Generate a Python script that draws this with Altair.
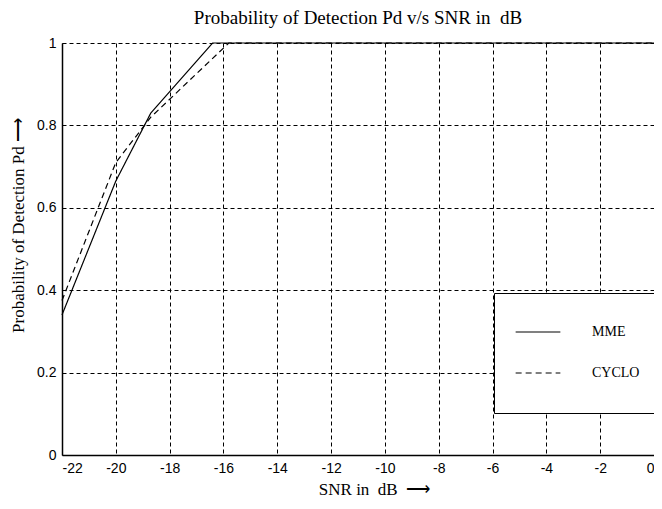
import altair as alt
import pandas as pd

mme_snr = [-22, -20, -18.7, -16.4, 0]
mme_pd = [0.34, 0.665, 0.83, 1.0, 1.0]
cyclo_snr = [-22, -20, -18.7, -15.8, 0]
cyclo_pd = [0.375, 0.71, 0.82, 1.0, 1.0]
series = ["MME", "CYCLO"]
x_ticks = list(range(-22, 1, 2))
y_ticks = [0, 0.2, 0.4, 0.6, 0.8, 1]

rows = []
for i, (xs, ys) in enumerate([(mme_snr, mme_pd), (cyclo_snr, cyclo_pd)]):
    for j, (x, y) in enumerate(zip(xs, ys)):
        rows.append({"snr": x, "pd": y, "series": series[i], "order": j})
df = pd.DataFrame(rows)

serif = "Liberation Serif"
sans = "Liberation Sans"
NB = "\u00a0"

chart = alt.Chart(df).mark_line(color="black", strokeWidth=1.2).encode(
    x=alt.X("snr:Q", scale=alt.Scale(domain=[-22, 0], nice=False),
            axis=alt.Axis(values=x_ticks, title=f"SNR in{NB}{NB}dB{NB}{NB}⟶",
                          titleX=312,
                          labelExpr="datum.value + ''")),
    y=alt.Y("pd:Q", scale=alt.Scale(domain=[0, 1], nice=False),
            axis=alt.Axis(values=y_ticks, title=f"Probability of Detection Pd{NB}⟶",
                          titleY=182,
                          labelExpr="datum.value == 0 || datum.value == 1 ? format(datum.value, 'd') : format(datum.value, '.1f')")),
    strokeDash=alt.StrokeDash("series:N", scale=alt.Scale(domain=series, range=[[1, 0], [6, 4]]),
                              legend=alt.Legend(title=NB, titleOrient="bottom", titleFontSize=12,
                                                titlePadding=6,
                                                orient="none", legendX=432, legendY=250,
                                                symbolType="stroke", symbolStrokeColor="black",
                                                symbolStrokeWidth=1.2, symbolSize=2000,
                                                symbolOffset=5,
                                                labelFont=serif, labelFontSize=14, labelColor="black",
                                                labelOffset=31, rowPadding=11, padding=16,
                                                strokeColor="black", fillColor="white",
                                                cornerRadius=0)),
    order="order:Q",
    detail="series:N",
).properties(
    width=592, height=412,
    title=alt.Title(f"Probability of Detection Pd v/s SNR in{NB}{NB}dB", font=serif, fontSize=19,
                    fontWeight="normal", color="black", offset=8),
    padding={"left": 54, "top": 35, "right": 0, "bottom": 46},
    autosize="none",
).configure_view(stroke=None).configure_axis(
    grid=True, gridColor="black", gridDash=[4, 3], gridOpacity=1, gridWidth=1,
    domainColor="black", domainWidth=1.5, tickSize=0,
    labelFont=sans, labelFontSize=14, labelColor="black", labelPadding=6,
    titleFont=serif, titleFontSize=17, titleFontWeight="normal", titleColor="black",
).configure_axisX(titlePadding=6).configure_axisY(titlePadding=9)

chart.save("out.html", embed_options={"renderer": "svg", "actions": False})
